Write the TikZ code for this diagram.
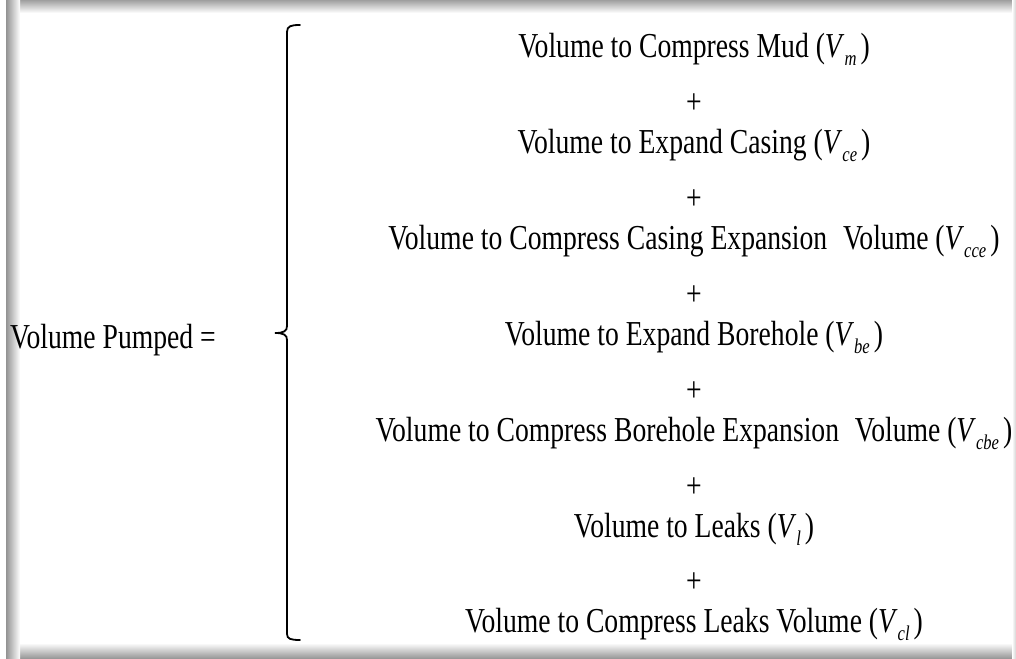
\documentclass[tikz,border=0pt]{standalone}
\usepackage{fontspec}
\setmainfont{Liberation Serif}[FakeStretch=0.79]
\newcommand{\volsub}[1]{(\textit{V}\raisebox{-8pt}{\fontsize{21}{21}\selectfont\textit{#1}}\hspace{4pt})}
\tikzset{
  term/.style={anchor=base, inner sep=0pt, font=\fontsize{35}{40}\selectfont},
  plussign/.style={anchor=center, inner sep=0pt, font=\fontsize{35}{40}\selectfont},
  brace line/.style={line width=1.8pt, line cap=round},
}
\begin{document}
\begin{tikzpicture}[x=1pt, y=-1pt]
\useasboundingbox (0,0) rectangle (1016,658);
% shadowed frame
\shade[top color=gray!75, bottom color=white] (6,0) rectangle (1016,13);
\shade[top color=white, bottom color=gray!80] (6,643) rectangle (1016,658);
\shade[left color=gray!85, right color=white] (6,0) rectangle (20,658);
\shade[left color=white, right color=gray!35] (1012,0) rectangle (1016,658);
% left side
\node[term, anchor=base west] (pumped) at (10,348) {Volume Pumped =};
% brace
\draw[brace line] (300,25) .. controls (291,25) and (287,26) .. (287,32) -- (287,326)
  .. controls (287,331) and (284,333) .. (275,333)
  .. controls (284,333) and (287,335) .. (287,340) -- (287,634)
  .. controls (287,639) and (291,640) .. (300,640);
% terms
\node[term] (mud) at (694,58) {Volume to Compress Mud \volsub{m}};
\node[plussign] (p1) at (694,104) {+};
\node[term] (casing) at (694,153.8) {Volume to Expand Casing \volsub{ce}};
\node[plussign] (p2) at (694,199.8) {+};
\node[term] (ccasing) at (694,249.6) {Volume to Compress Casing Expansion\hspace{0.45em}Volume \volsub{cce}};
\node[plussign] (p3) at (694,295.6) {+};
\node[term] (bore) at (694,345.4) {Volume to Expand Borehole \volsub{be}};
\node[plussign] (p4) at (694,391.4) {+};
\node[term] (cbore) at (694,441.2) {Volume to Compress Borehole Expansion\hspace{0.45em}Volume \volsub{cbe}};
\node[plussign] (p5) at (694,487.2) {+};
\node[term] (leaks) at (694,537) {Volume to Leaks \volsub{l}};
\node[plussign] (p6) at (694,583) {+};
\node[term] (cleaks) at (694,632.8) {Volume to Compress Leaks Volume \volsub{cl}};
\end{tikzpicture}
\end{document}
